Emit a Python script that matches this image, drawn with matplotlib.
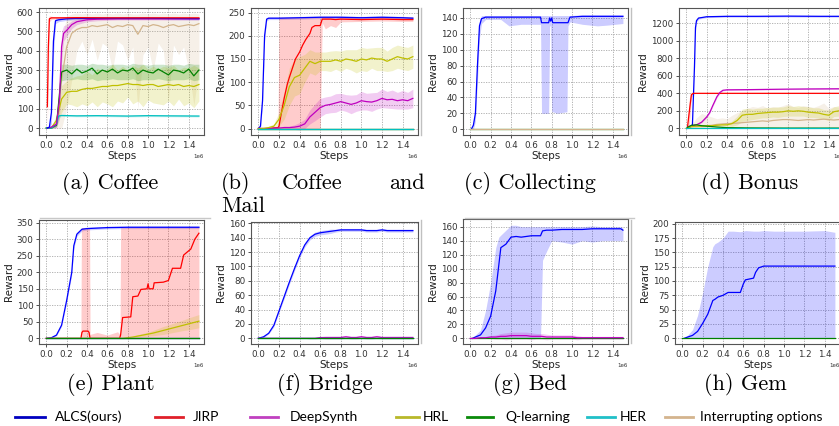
import numpy as np
import matplotlib.pyplot as plt
from matplotlib.lines import Line2D

# ---------------------------------------------------------------
# Data (x in units of 1e6 steps)
STEPS = [0.00, 0.05, 0.10, 0.15, 0.20, 0.25, 0.30, 0.35, 0.40, 0.45, 0.50,
         0.55, 0.60, 0.65, 0.70, 0.75, 0.80, 0.85, 0.90, 0.95, 1.00,
         1.05, 1.10, 1.15, 1.20, 1.25, 1.30, 1.35, 1.40, 1.45, 1.50]
ZERO_X = [0.0, 1.5]
ZERO_Y = [0, 0]

# (a) Coffee
A_ALCS_X = [0.01, 0.03, 0.05, 0.07, 0.09, 0.12, 0.2, 0.3, 0.5, 0.8, 1.0, 1.2, 1.5]
A_ALCS_Y = [0, 5, 80, 450, 555, 560, 565, 567, 568, 568, 568, 567, 566]
A_ALCS_S = [0, 5, 60, 80, 15, 10, 8, 6, 6, 6, 6, 6, 6]
A_JIRP_X = [0.01, 0.02, 0.03, 0.05, 0.1, 0.3, 0.6, 1.0, 1.5]
A_JIRP_Y = [110, 420, 565, 570, 570, 571, 570, 570, 570]
A_JIRP_S = [100, 150, 15, 8, 5, 5, 5, 5, 5]
A_DS_X = [0.01, 0.05, 0.1, 0.13, 0.15, 0.17, 0.2, 0.25, 0.3, 0.4, 0.5, 0.7, 1.0, 1.5]
A_DS_Y = [0, 5, 20, 150, 420, 490, 505, 535, 550, 560, 563, 565, 565, 565]
A_DS_S = [0, 5, 20, 100, 80, 40, 30, 20, 15, 10, 8, 6, 6, 6]
A_HRL_Y = [0, 2, 40, 150, 185, 190, 190, 200, 205, 205, 210, 215, 215, 220, 220, 225,
           230, 225, 225, 220, 225, 225, 215, 220, 225, 220, 225, 215, 220, 215, 225]
A_HRL_S = [0, 2, 30, 70, 60, 70, 80, 75, 90, 70, 100, 80, 90, 110, 80, 95,
           70, 100, 85, 110, 80, 95, 90, 100, 85, 105, 75, 100, 90, 110, 85]
A_QL_Y = [0, 0, 15, 290, 300, 280, 305, 285, 295, 310, 280, 300, 290, 305, 285, 300,
          295, 310, 280, 300, 290, 285, 305, 290, 275, 300, 295, 285, 305, 270, 300]
A_QL_LO = [0, 0, 5, 245, 250, 250, 255, 250, 250, 255, 245, 250, 250, 255, 250, 250,
           250, 255, 245, 250, 250, 250, 255, 250, 245, 250, 250, 250, 255, 245, 250]
A_QL_HI = [0, 0, 25, 330, 330, 325, 330, 330, 325, 335, 330, 330, 325, 330, 330, 330,
           325, 335, 330, 330, 325, 330, 330, 330, 325, 330, 330, 325, 335, 330, 330]
A_HER_X = [0.0, 0.05, 0.1, 0.12, 0.15, 0.3, 0.5, 0.8, 1.0, 1.2, 1.5]
A_HER_Y = [0, 0, 20, 62, 65, 63, 64, 62, 64, 63, 62]
A_HER_S = [0, 0, 10, 8, 5, 5, 5, 5, 5, 5, 5]
A_IO_Y = [0, 0, 20, 250, 420, 490, 510, 520, 520, 530, 525, 530, 535, 520, 530, 525,
          535, 530, 485, 530, 525, 535, 530, 520, 530, 535, 525, 530, 535, 530, 540]
A_IO_LO = [0, 0, 0, 0, 100, 250, 400, 450, 380, 460, 350, 440, 420, 300, 450, 430,
           350, 420, 100, 380, 420, 300, 440, 400, 150, 430, 380, 420, 300, 120, 300]
A_IO_HI = [0, 0, 60, 450, 580, 590, 595, 590, 595, 590, 595, 590, 595, 590, 595, 590,
           595, 590, 590, 595, 590, 595, 590, 595, 590, 595, 590, 595, 590, 595, 590]

# (b) Coffee and Mail
B_ALCS_X = [0.0, 0.02, 0.04, 0.06, 0.08, 0.1, 0.2, 0.4, 0.6, 0.8, 1.0, 1.2, 1.4, 1.5]
B_ALCS_Y = [0, 5, 60, 200, 236, 238, 238, 239, 240, 240, 239, 240, 239, 238]
B_ALCS_S = [0, 3, 10, 10, 4, 3, 3, 3, 3, 3, 3, 3, 3, 3]
B_JIRP_X = [0.0, 0.1, 0.19, 0.2, 0.22, 0.25, 0.28, 0.3, 0.33, 0.36, 0.4, 0.43, 0.46,
            0.5, 0.52, 0.55, 0.6, 0.62, 0.65, 0.7, 0.75, 0.8, 1.0, 1.2, 1.4, 1.5]
B_JIRP_Y = [0, 0, 2, 5, 30, 65, 95, 110, 130, 150, 165, 180, 192,
            205, 218, 222, 222, 236, 236, 236, 235, 236, 235, 236, 235, 235]
B_JIRP_LO = [0, 0, 0, 0, 0, 0, 0, 0, 0, 0, 0, 0, 0,
             0, 0, 0, 0, 228, 215, 222, 218, 230, 231, 232, 231, 231]
B_JIRP_HI = [0, 0, 2, 240, 240, 240, 240, 240, 240, 240, 240, 240, 240,
             240, 240, 240, 240, 242, 242, 241, 242, 241, 241, 242, 241, 241]
B_DS_Y = [0, 0, 0, 1, 1, 2, 2, 3, 5, 10, 25, 35, 45, 50, 52, 55,
          58, 55, 52, 55, 60, 58, 57, 60, 65, 62, 63, 60, 62, 60, 65]
B_DS_S = [0, 0, 1, 1, 2, 3, 3, 5, 8, 10, 15, 18, 20, 18, 18, 20,
          18, 18, 20, 18, 20, 18, 20, 18, 20, 18, 20, 18, 20, 18, 20]
B_HRL_Y = [0, 0, 2, 5, 20, 50, 90, 110, 115, 130, 145, 140, 145, 145, 145, 148,
           145, 150, 148, 145, 150, 148, 152, 150, 150, 145, 150, 155, 152, 150, 155]
B_HRL_S = [0, 1, 3, 5, 15, 30, 40, 40, 40, 30, 25, 25, 20, 20, 22, 20,
           22, 20, 22, 25, 25, 25, 22, 25, 25, 22, 25, 25, 25, 25, 25]

# (c) Collecting
C_ALCS_X = [0.01, 0.03, 0.05, 0.07, 0.09, 0.11, 0.15, 0.3, 0.38, 0.5, 0.69, 0.7, 0.77,
            0.78, 0.79, 0.8, 0.81, 0.85, 0.95, 0.96, 0.98, 1.1, 1.25, 1.35, 1.5]
C_ALCS_Y = [0, 5, 20, 80, 130, 139, 141, 141, 141, 141, 141, 134, 134,
            140, 136, 140, 134, 134, 134, 134, 141, 142, 142, 142, 142]
C_ALCS_LO = [0, 0, 10, 60, 115, 133, 138, 138, 130, 132, 132, 20, 20,
             130, 130, 22, 22, 20, 22, 130, 135, 132, 130, 131, 133]
C_ALCS_HI = [0, 10, 30, 100, 138, 143, 143, 143, 143, 143, 143, 143, 143,
             143, 143, 143, 143, 143, 143, 143, 143, 144, 144, 144, 144]

# (d) Bonus
D_ALCS_X = [0.01, 0.04, 0.06, 0.08, 0.09, 0.1, 0.12, 0.2, 0.4, 0.7, 1.0, 1.3, 1.5]
D_ALCS_Y = [0, 20, 40, 700, 1150, 1230, 1260, 1275, 1280, 1280, 1282, 1280, 1280]
D_ALCS_S = [0, 5, 10, 60, 40, 20, 12, 10, 10, 10, 10, 10, 10]
D_JIRP_X = [0.01, 0.03, 0.05, 0.07, 0.1, 0.5, 1.0, 1.5]
D_JIRP_Y = [0, 200, 385, 400, 400, 400, 400, 400]
D_JIRP_S = [0, 150, 30, 5, 3, 3, 3, 3]
D_DS_X = [0.02, 0.1, 0.15, 0.2, 0.23, 0.26, 0.3, 0.33, 0.36, 0.4, 0.6, 0.8, 1.0, 1.2, 1.5]
D_DS_Y = [20, 40, 70, 130, 180, 260, 360, 410, 435, 440, 442, 445, 448, 450, 452]
D_DS_S = [3, 5, 8, 10, 12, 12, 12, 10, 8, 6, 6, 6, 6, 6, 6]
D_HRL_Y = [0, 20, 25, 25, 30, 30, 35, 40, 40, 55, 90, 150, 160, 160, 170, 175,
           180, 185, 185, 190, 200, 195, 200, 195, 185, 180, 175, 160, 150, 190, 200]
D_HRL_S = [0, 5, 10, 10, 10, 10, 10, 10, 12, 30, 50, 70, 70, 60, 60, 55,
           60, 55, 60, 55, 60, 55, 60, 55, 60, 55, 60, 55, 60, 55, 60]
D_IO_Y = [0, 20, 20, 25, 30, 35, 45, 50, 55, 55, 60, 65, 70, 75, 80, 85,
          80, 90, 95, 100, 100, 95, 90, 95, 100, 95, 100, 105, 100, 95, 100]
D_IO_LO = [0, 10, 5, 5, 5, 5, 10, 10, 10, 10, 10, 15, 15, 15, 20, 20,
           15, 20, 20, 25, 20, 20, 15, 20, 20, 15, 20, 20, 15, 15, 20]
D_IO_HI = [0, 40, 120, 170, 150, 130, 110, 120, 110, 150, 180, 200, 230, 250, 240, 260,
           230, 250, 240, 260, 280, 250, 240, 260, 250, 240, 260, 290, 230, 250, 240]
D_QL_X = [0.01, 0.05, 0.1, 0.15, 0.2, 0.3, 0.4, 0.6, 1.0, 1.5]
D_QL_Y = [10, 35, 40, 30, 25, 15, 8, 5, 3, 3]

# (e) Plant
E_ALCS_X = [0.0, 0.05, 0.1, 0.15, 0.2, 0.25, 0.27, 0.3, 0.35, 0.4, 0.6, 0.8, 1.0, 1.2, 1.5]
E_ALCS_Y = [0, 2, 10, 40, 115, 200, 280, 315, 330, 332, 335, 336, 336, 336, 336]
E_ALCS_S = [0, 1, 2, 4, 6, 8, 8, 6, 5, 4, 4, 4, 4, 4, 4]
E_JIRP_X = [0.0, 0.34, 0.35, 0.36, 0.41, 0.42, 0.43, 0.72, 0.73, 0.75,
            0.83, 0.85, 0.9, 0.93, 0.99, 1.0, 1.01, 1.05, 1.06, 1.15,
            1.2, 1.24, 1.26, 1.32, 1.35, 1.4, 1.42, 1.46, 1.5]
E_JIRP_Y = [0, 0, 18, 22, 22, 18, 0, 0, 10, 63,
            65, 126, 128, 148, 150, 165, 150, 150, 168, 170,
            175, 212, 212, 212, 252, 265, 270, 300, 318]
E_JIRP_FX = [0.0, 0.34, 0.345, 0.425, 0.43, 0.5, 0.6, 0.7, 0.725, 0.73, 1.5]
E_JIRP_HI = [0, 0, 335, 335, 12, 18, 10, 20, 12, 335, 338]
E_HRL_Y = [0, 0, 0, 0, 0, 0, 0, 0, 0, 0, 0, 0, 0, 0, 0, 0,
           2, 4, 7, 10, 13, 16, 20, 24, 28, 32, 36, 40, 44, 48, 52]
E_HRL_S = [0, 0, 0, 0, 0, 0, 0, 0, 0, 0, 0, 0, 0, 0, 0, 1,
           2, 3, 4, 5, 6, 8, 10, 12, 13, 14, 15, 16, 18, 19, 20]

# (f) Bridge
F_ALCS_Y = [0, 2, 7, 18, 38, 58, 78, 97, 115, 130, 140, 145, 147, 148, 149, 150,
            151, 151, 151, 151, 151, 150, 150, 150, 151, 150, 150, 150, 150, 150, 150]
F_ALCS_S = [0, 1, 1, 2, 2, 3, 3, 3, 3, 3, 3, 3, 3, 3, 3, 2,
            2, 2, 2, 2, 2, 2, 2, 2, 2, 2, 2, 2, 2, 2, 2]
F_DS_Y = [0, 0, 0, 0, 0, 0, 0, 0, 0, 0, 0, 0, 1, 1, 1, 1,
          1, 2, 1, 1, 2, 1, 1, 2, 1, 1, 1, 1, 1, 1, 1]
F_DS_S = [0, 0, 0, 0, 0, 0, 0, 0, 0, 0, 1, 1, 1, 2, 2, 2,
          2, 2, 2, 2, 2, 2, 2, 2, 2, 2, 2, 2, 2, 2, 2]

# (g) Bed
G_ALCS_X = [0.02, 0.05, 0.1, 0.15, 0.2, 0.25, 0.28, 0.3, 0.35, 0.4, 0.45, 0.5, 0.6,
            0.69, 0.71, 0.75, 0.8, 0.9, 1.0, 1.1, 1.2, 1.3, 1.4, 1.48, 1.5]
G_ALCS_Y = [0, 2, 5, 15, 32, 68, 105, 130, 135, 145, 146, 145, 147,
            147, 154, 155, 155, 156, 156, 156, 157, 157, 157, 157, 155]
G_ALCS_LO = [0, 0, 0, 0, 0, 0, 0, 0, 0, 0, 0, 0, 0,
             0, 112, 125, 140, 138, 135, 140, 138, 140, 140, 140, 140]
G_ALCS_HI = [0, 5, 12, 40, 80, 130, 145, 148, 155, 162, 162, 160, 160,
             160, 160, 160, 160, 160, 160, 160, 161, 160, 160, 160, 158]
G_DS_Y = [0, 0, 1, 1, 2, 2, 3, 3, 4, 4, 4, 4, 3, 3, 3, 2,
          2, 2, 2, 2, 2, 1, 1, 1, 1, 1, 1, 1, 1, 1, 1]
G_DS_S = [0, 0, 1, 1, 2, 3, 4, 5, 5, 5, 5, 5, 5, 4, 4, 4,
          3, 3, 3, 3, 3, 3, 2, 2, 2, 2, 2, 2, 2, 2, 2]

# (h) Gem
H_ALCS_X = [0.02, 0.05, 0.1, 0.15, 0.2, 0.25, 0.3, 0.32, 0.35, 0.4, 0.45, 0.5,
            0.57, 0.6, 0.62, 0.7, 0.72, 0.75, 0.8, 0.9, 1.0, 1.2, 1.4, 1.5]
H_ALCS_Y = [0, 2, 5, 12, 26, 42, 66, 68, 72, 75, 80, 80,
            80, 95, 102, 105, 115, 123, 126, 126, 126, 126, 126, 126]
H_ALCS_HI = [0, 5, 15, 40, 80, 125, 160, 165, 168, 175, 187, 187,
             186, 187, 188, 187, 187, 187, 188, 187, 187, 187, 188, 185]

METHODS = ['ALCS(ours)', 'JIRP', 'DeepSynth', 'HRL', 'Q-learning', 'HER',
           'Interrupting options']
LINE_COLORS = ['blue', 'red', 'm', 'y', 'g', 'c', 'tan']
LEGEND_COLORS = ['#0000c0', '#e0202a', '#c040c0', '#b8b82a', '#0a8a0a',
                 '#20c0c8', '#d4b48e']
CAPTIONS = ['(a) Coffee', None, '(c) Collecting', '(d) Bonus',
            '(e) Plant', '(f) Bridge', '(g) Bed', '(h) Gem']

# ---------------------------------------------------------------
W, H = 839, 426
fig = plt.figure(figsize=(W / 100, H / 100), dpi=100)
col = dict(zip(METHODS, LINE_COLORS))


def px_axes(l, t, r, b):
    return fig.add_axes([l / W, 1 - b / H, (r - l) / W, (b - t) / H])


def curve(ax, name, x, y, lo=None, hi=None, spread=None, lw=0.9):
    x = np.asarray(x) * 1e6
    y = np.asarray(y, dtype=float)
    if spread is not None:
        lo, hi = y - np.asarray(spread), y + np.asarray(spread)
    if lo is not None:
        ax.fill_between(x, lo, hi, color=col[name], alpha=0.2, lw=0)
    ax.plot(x, y, color=col[name], lw=lw)


def style(ax, ylim, yticks):
    ax.set_xlim(-0.072e6, 1.55e6)
    ax.set_ylim(*ylim)
    ax.set_xticks(np.arange(0, 1.41, 0.2) * 1e6)
    ax.set_yticks(yticks)
    ax.grid(True, ls=(0, (1.5, 1.5)), lw=0.6, color='#a8a8a8')
    ax.set_axisbelow(True)
    ax.tick_params(labelsize=6.3, length=2.5, width=0.6, pad=1.5, colors='#333333')
    for sp in ax.spines.values():
        sp.set_color('#555555')
        sp.set_linewidth(0.8)
    ax.set_xlabel('Steps', fontsize=7.5, labelpad=1, color='#222222')
    ax.set_ylabel('Reward', fontsize=7.5, labelpad=2, color='#222222')
    ax.xaxis.get_offset_text().set_fontsize(4)


# (a) Coffee
ax = px_axes(39, 8, 204, 135)
curve(ax, 'Interrupting options', STEPS, A_IO_Y, lo=A_IO_LO, hi=A_IO_HI)
curve(ax, 'HRL', STEPS, A_HRL_Y, spread=A_HRL_S)
curve(ax, 'Q-learning', STEPS, A_QL_Y, lo=A_QL_LO, hi=A_QL_HI)
curve(ax, 'HER', A_HER_X, A_HER_Y, spread=A_HER_S)
curve(ax, 'DeepSynth', A_DS_X, A_DS_Y, spread=A_DS_S)
curve(ax, 'ALCS(ours)', A_ALCS_X, A_ALCS_Y, spread=A_ALCS_S)
curve(ax, 'JIRP', A_JIRP_X, A_JIRP_Y, spread=A_JIRP_S)
style(ax, (-36, 621), range(0, 601, 100))

# (b) Coffee and Mail
ax = px_axes(251, 8, 418, 135)
curve(ax, 'ALCS(ours)', B_ALCS_X, B_ALCS_Y, spread=B_ALCS_S)
curve(ax, 'JIRP', B_JIRP_X, B_JIRP_Y, lo=B_JIRP_LO, hi=B_JIRP_HI)
curve(ax, 'DeepSynth', STEPS, B_DS_Y, spread=B_DS_S)
curve(ax, 'HRL', STEPS, B_HRL_Y, spread=B_HRL_S)
curve(ax, 'Interrupting options', ZERO_X, ZERO_Y)
curve(ax, 'Q-learning', ZERO_X, ZERO_Y)
curve(ax, 'HER', ZERO_X, ZERO_Y)
style(ax, (-14, 260), range(0, 251, 50))

# (c) Collecting
ax = px_axes(463, 8, 628, 135)
curve(ax, 'ALCS(ours)', C_ALCS_X, C_ALCS_Y, lo=C_ALCS_LO, hi=C_ALCS_HI)
curve(ax, 'Q-learning', ZERO_X, ZERO_Y)
curve(ax, 'Interrupting options', ZERO_X, ZERO_Y)
style(ax, (-7.3, 152.5), range(0, 141, 20))

# (d) Bonus
ax = px_axes(679, 8, 844, 135)
curve(ax, 'ALCS(ours)', D_ALCS_X, D_ALCS_Y, spread=D_ALCS_S)
curve(ax, 'JIRP', D_JIRP_X, D_JIRP_Y, spread=D_JIRP_S)
curve(ax, 'DeepSynth', D_DS_X, D_DS_Y, spread=D_DS_S)
curve(ax, 'Interrupting options', STEPS, D_IO_Y, lo=D_IO_LO, hi=D_IO_HI)
curve(ax, 'HRL', STEPS, D_HRL_Y, spread=D_HRL_S)
curve(ax, 'Q-learning', D_QL_X, D_QL_Y)
curve(ax, 'HER', ZERO_X, ZERO_Y)
style(ax, (-76, 1375), range(0, 1201, 200))

# (e) Plant
ax = px_axes(39, 220, 204, 344)
curve(ax, 'ALCS(ours)', E_ALCS_X, E_ALCS_Y, spread=E_ALCS_S)
ax.fill_between(np.asarray(E_JIRP_FX) * 1e6, 0, E_JIRP_HI, color='red', alpha=0.2, lw=0)
curve(ax, 'JIRP', E_JIRP_X, E_JIRP_Y)
curve(ax, 'HRL', STEPS, E_HRL_Y, spread=E_HRL_S)
curve(ax, 'DeepSynth', ZERO_X, ZERO_Y)
curve(ax, 'HER', ZERO_X, ZERO_Y)
curve(ax, 'Q-learning', ZERO_X, ZERO_Y)
style(ax, (-17, 358), range(0, 351, 50))

# (f) Bridge
ax = px_axes(251, 222, 418, 344)
curve(ax, 'ALCS(ours)', STEPS, F_ALCS_Y, spread=F_ALCS_S)
curve(ax, 'DeepSynth', STEPS, F_DS_Y, spread=F_DS_S)
curve(ax, 'HER', ZERO_X, ZERO_Y)
curve(ax, 'Q-learning', ZERO_X, ZERO_Y)
style(ax, (-8, 162), range(0, 161, 20))

# (g) Bed
ax = px_axes(463, 219, 628, 344)
curve(ax, 'ALCS(ours)', G_ALCS_X, G_ALCS_Y, lo=G_ALCS_LO, hi=G_ALCS_HI)
curve(ax, 'Q-learning', ZERO_X, ZERO_Y)
curve(ax, 'DeepSynth', STEPS, G_DS_Y, spread=G_DS_S)
style(ax, (-8, 171), range(0, 161, 20))

# (h) Gem
ax = px_axes(675, 222, 840, 344)
curve(ax, 'ALCS(ours)', H_ALCS_X, H_ALCS_Y, lo=np.zeros(len(H_ALCS_X)), hi=H_ALCS_HI)
curve(ax, 'Q-learning', ZERO_X, ZERO_Y)
style(ax, (-10, 203), range(0, 201, 25))

# ---------------------------------------------------------------
# subfigure captions
cap = dict(family='cmr10', fontsize=16, va='baseline')
for txt, cx, by in zip(CAPTIONS, [110, 0, 530, 750, 111, 325, 530, 745],
                       [189, 0, 189, 189, 390, 390, 390, 390]):
    if txt:
        fig.text(cx / W, 1 - by / H, txt, ha='center', **cap)
fig.text(221 / W, 1 - 189 / H, '(b)', ha='left', **cap)
fig.text(312 / W, 1 - 189 / H, 'Coffee', ha='center', **cap)
fig.text(425 / W, 1 - 189 / H, 'and', ha='right', **cap)
fig.text(221 / W, 1 - 212 / H, 'Mail', ha='left', **cap)

# image frame remnants
for x0 in [421, 631]:
    for y0, y1 in [(8, 135), (220, 343)]:
        fig.add_artist(Line2D([x0 / W, x0 / W], [1 - y0 / H, 1 - y1 / H],
                              color='#c0c0c0', lw=1))
for xa, xb in [(40, 210), (465, 634)]:
    fig.add_artist(Line2D([xa / W, xb / W], [1 - 218 / H, 1 - 218 / H],
                          color='#c8c8c8', lw=1))

# legend
LEG_LINE_X = [(15, 45), (155, 183), (250, 278), (396, 419), (467, 493), (587, 615), (665, 693)]
LEG_TEXT_X = [55, 193, 290, 423, 505, 620, 700]
ly = 1 - 417 / H
for name, c, (xa, xb), tx in zip(METHODS, LEGEND_COLORS, LEG_LINE_X, LEG_TEXT_X):
    fig.add_artist(Line2D([xa / W, xb / W], [ly, ly], color=c, lw=2))
    fig.text(tx / W, ly, name, fontsize=10, family='Lato', va='center', ha='left')

fig.savefig('out.png', dpi=100)
